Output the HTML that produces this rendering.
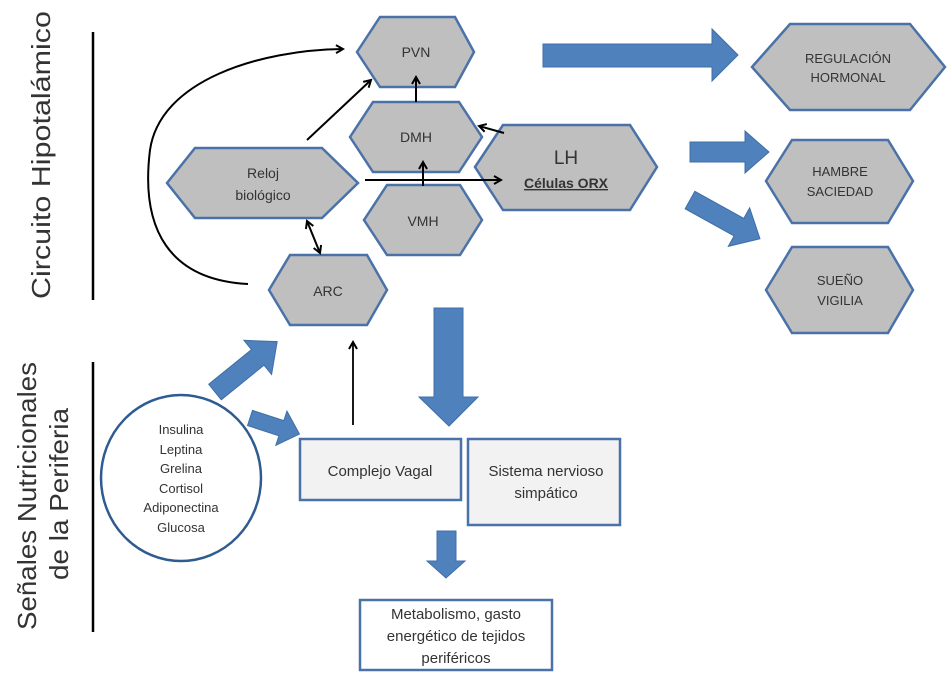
<!DOCTYPE html>
<html><head><meta charset="utf-8"><style>
html,body{margin:0;padding:0;background:#fff;}
svg{display:block;}
text{font-family:"Liberation Sans",sans-serif;fill:#333;}
</style></head><body>
<svg width="951" height="674" viewBox="0 0 951 674" xmlns="http://www.w3.org/2000/svg">
<defs>
<marker id="ah" markerWidth="10" markerHeight="10" refX="8" refY="5" orient="auto" markerUnits="userSpaceOnUse">
<path d="M1,1 L8,5 L1,9" fill="none" stroke="#000" stroke-width="2"/>
</marker>
<marker id="ahs" markerWidth="10" markerHeight="10" refX="2" refY="5" orient="auto" markerUnits="userSpaceOnUse">
<path d="M9,1 L2,5 L9,9" fill="none" stroke="#000" stroke-width="2"/>
</marker>
</defs>
<!-- side labels -->
<line x1="93" y1="32" x2="93" y2="300" stroke="#000" stroke-width="2.5"/>
<line x1="93" y1="362" x2="93" y2="632" stroke="#000" stroke-width="2.5"/>
<text transform="translate(50,155) rotate(-90)" text-anchor="middle" font-size="26" textLength="288" lengthAdjust="spacingAndGlyphs">Circuito Hipotalámico</text>
<text transform="translate(36,496) rotate(-90)" text-anchor="middle" font-size="26" textLength="268" lengthAdjust="spacingAndGlyphs">Señales Nutricionales</text>
<text transform="translate(68,494) rotate(-90)" text-anchor="middle" font-size="26" textLength="172" lengthAdjust="spacingAndGlyphs">de la Periferia</text>

<g fill="#bfbfbf" stroke="#4a72a8" stroke-width="2.5">
<polygon points="357,52 380,17 455,17 474,52 455,87 380,87"/>
<polygon points="350,137 373,102 459,102 482,137 459,172 373,172"/>
<polygon points="167,183 195,148 322,148 358,183 322,218 195,218"/>
<polygon points="364,220 387,185 460,185 482,220 460,255 387,255"/>
<polygon points="475,167 503,125 630,125 657,167 630,210 503,210"/>
<polygon points="269,290 290,255 367,255 387,290 367,325 290,325"/>
<polygon points="752,67 790,24 910,24 945,67 910,110 790,110"/>
<polygon points="766,181 792,140 888,140 913,181 888,223 792,223"/>
<polygon points="766,290 792,247 888,247 913,290 888,333 792,333"/>
</g>
<g font-size="14" text-anchor="middle">
<text x="416" y="57">PVN</text>
<text x="416" y="142">DMH</text>
<text x="423" y="226">VMH</text>
<text x="263" y="178">Reloj</text>
<text x="263" y="200">biológico</text>
<text x="328" y="296">ARC</text>
<text x="566" y="164" font-size="19">LH</text>
<text x="566" y="188" font-weight="bold" text-decoration="underline">Células ORX</text>
<text x="848" y="63" font-size="13">REGULACIÓN</text>
<text x="848" y="82" font-size="13">HORMONAL</text>
<text x="840" y="176" font-size="13">HAMBRE</text>
<text x="840" y="196" font-size="13">SACIEDAD</text>
<text x="840" y="285" font-size="13">SUEÑO</text>
<text x="840" y="305" font-size="13">VIGILIA</text>
</g>

<!-- black connectors -->
<g stroke="#000" stroke-width="2" fill="none">
<path d="M248,284 C170,280 140,230 150,150 C160,80 260,50 343,49" marker-end="url(#ah)"/>
<line x1="307" y1="140" x2="371" y2="80" marker-end="url(#ah)"/>
<line x1="416" y1="102" x2="416" y2="77" marker-end="url(#ah)"/>
<line x1="423" y1="186" x2="423" y2="162" marker-end="url(#ah)"/>
<line x1="365" y1="180" x2="501" y2="180" marker-end="url(#ah)"/>
<line x1="504" y1="133" x2="479" y2="126" marker-end="url(#ah)"/>
<line x1="307" y1="221" x2="320" y2="253" marker-end="url(#ah)" marker-start="url(#ahs)"/>
<line x1="353" y1="425" x2="353" y2="342" stroke-width="1.8" marker-end="url(#ah)"/>
</g>

<!-- blue arrows -->
<g fill="#4f81bd" stroke="#3f6ea8" stroke-width="1">
<polygon points="543,44 712,44 712,29 738,55 712,81 712,67 543,67"/>
<polygon points="690,142 745,142 745,131 769,152 745,173 745,162 690,162"/>
<g transform="translate(690,200) rotate(29)"><polygon points="0,-10 56,-10 56,-22 80,0 56,22 56,10 0,10"/></g>
<polygon points="434,308 463,308 463,397 478,397 449,426 419,397 434,397"/>
<polygon points="437,531 456,531 456,561 465,561 446,578 427,561 437,561"/>
<g transform="translate(215,392) rotate(-39)"><polygon points="0,-10 55,-10 55,-22 80,0 55,22 55,10 0,10"/></g>
<g transform="translate(250,418) rotate(18)"><polygon points="0,-8 33,-8 33,-18 52,0 33,18 33,8 0,8"/></g>
</g>

<ellipse cx="181" cy="478" rx="80" ry="83" fill="#fff" stroke="#2e5c91" stroke-width="2.5"/>
<g font-size="13" text-anchor="middle">
<text x="181" y="434">Insulina</text>
<text x="181" y="454">Leptina</text>
<text x="181" y="473">Grelina</text>
<text x="181" y="493">Cortisol</text>
<text x="181" y="512">Adiponectina</text>
<text x="181" y="532">Glucosa</text>
</g>
<g stroke="#4a72a8" stroke-width="2.5">
<rect x="300" y="439" width="161" height="61" fill="#f2f2f2"/>
<rect x="468" y="439" width="152" height="86" fill="#f2f2f2"/>
<rect x="360" y="600" width="192" height="70" fill="#fff"/>
</g>
<g font-size="15" text-anchor="middle">
<text x="380" y="476">Complejo Vagal</text>
<text x="546" y="476">Sistema nervioso</text>
<text x="546" y="498">simpático</text>
<text x="456" y="619">Metabolismo, gasto</text>
<text x="456" y="641">energético de tejidos</text>
<text x="456" y="663">periféricos</text>
</g>
</svg>
</body></html>
